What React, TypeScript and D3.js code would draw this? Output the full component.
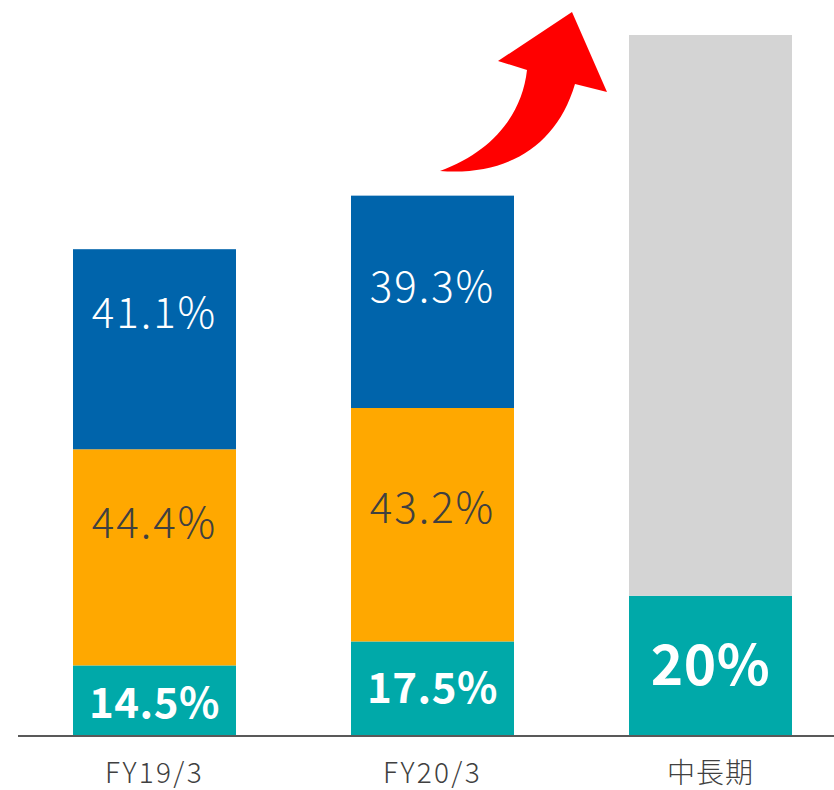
import React from "react";
import * as d3 from "d3";

const categories = ["FY19/3", "FY20/3", "中長期"];
const totals = [100, 111, 144];
const tealShare = [14.5, 17.5, 20];
const orangeShare = [44.4, 43.2, null];
const blueShare = [41.1, 39.3, null];
const tealLabels = ["14.5%", "17.5%", "20%"];
const orangeLabels = ["44.4%", "43.2%", ""];
const blueLabels = ["41.1%", "39.3%", ""];

const W = 834;
const H = 790;
const BASE = 736;
const TOP = 35;
const FONT = "'Noto Sans CJK JP', 'Noto Sans', sans-serif";

const COLORS = {
  teal: "#00A9A9",
  orange: "#FFA800",
  blue: "#0064AB",
  grey: "#D4D4D4",
};

// manual label nudges (as in the reference layout)
const blueDy = [-40, -18, 0];
const orangeDy = [-38, -20, 0];
const tealDy = [-1, -4, -5];

export default function App() {
  const x = d3
    .scaleBand<string>()
    .domain(categories)
    .range([17.4, 847.6])
    .paddingInner(0.4137)
    .paddingOuter(0.2);
  const y = d3.scaleLinear().domain([0, d3.max(totals)!]).range([BASE, TOP]);

  const bars: any[] = [];
  categories.forEach((c, i) => {
    const x0 = x(c)!;
    const bw = x.bandwidth();
    const cx = x0 + bw / 2;
    const total = totals[i];
    const segs: { v: number; color: string; label: string; dy: number; bold: boolean; size: number; fill: string }[] = [];
    segs.push({ v: (total * tealShare[i]) / 100, color: COLORS.teal, label: tealLabels[i], dy: tealDy[i], bold: true, size: i === 2 ? 55 : 42, fill: "#ffffff" });
    if (orangeShare[i] != null) {
      segs.push({ v: (total * (orangeShare[i] as number)) / 100, color: COLORS.orange, label: orangeLabels[i], dy: orangeDy[i], bold: false, size: 42, fill: "#404040" });
      segs.push({ v: (total * (blueShare[i] as number)) / 100, color: COLORS.blue, label: blueLabels[i], dy: blueDy[i], bold: false, size: 42, fill: "#ffffff" });
    } else {
      segs.push({ v: total - (total * tealShare[i]) / 100, color: COLORS.grey, label: "", dy: 0, bold: false, size: 42, fill: "#fff" });
    }
    let acc = 0;
    segs.forEach((s, k) => {
      const y0 = y(acc);
      const y1 = y(acc + s.v);
      acc += s.v;
      bars.push(
        <g key={`${i}-${k}`}>
          <rect x={x0} y={y1} width={bw} height={y0 - y1} fill={s.color} />
          {s.label && (
            <text
              x={cx}
              y={(y0 + y1) / 2 + s.dy}
              textAnchor="middle"
              dominantBaseline="central"
              fontFamily={FONT}
              fontWeight={s.bold ? 700 : 300}
              fontSize={s.size}
              letterSpacing={s.bold ? 0.5 : 2}
              fill={s.fill}
            >
              {s.label}
            </text>
          )}
        </g>
      );
    });
    bars.push(
      <text
        key={`xl-${i}`}
        x={cx}
        y={783}
        textAnchor="middle"
        fontFamily={FONT}
        fontWeight={300}
        fontSize={28}
        letterSpacing={/^[\x00-\x7F]+$/.test(c) ? 2.3 : 1}
        fill="#404040"
      >
        {c}
      </text>
    );
  });

  return (
    <svg
      width={W}
      height={H}
      style={{ position: "absolute", left: 0, top: 0, background: "#fff" }}
    >
      {bars}
      <line x1={18} x2={834} y1={BASE} y2={BASE} stroke="#595959" strokeWidth={2} />
      <path
        d="M440,171 C492,152 522,115 527,70 L498,61 L572,12 L607,92 L575,84 C556,148 505,176 440,171 Z"
        fill="#FF0000"
      />
    </svg>
  );
}
